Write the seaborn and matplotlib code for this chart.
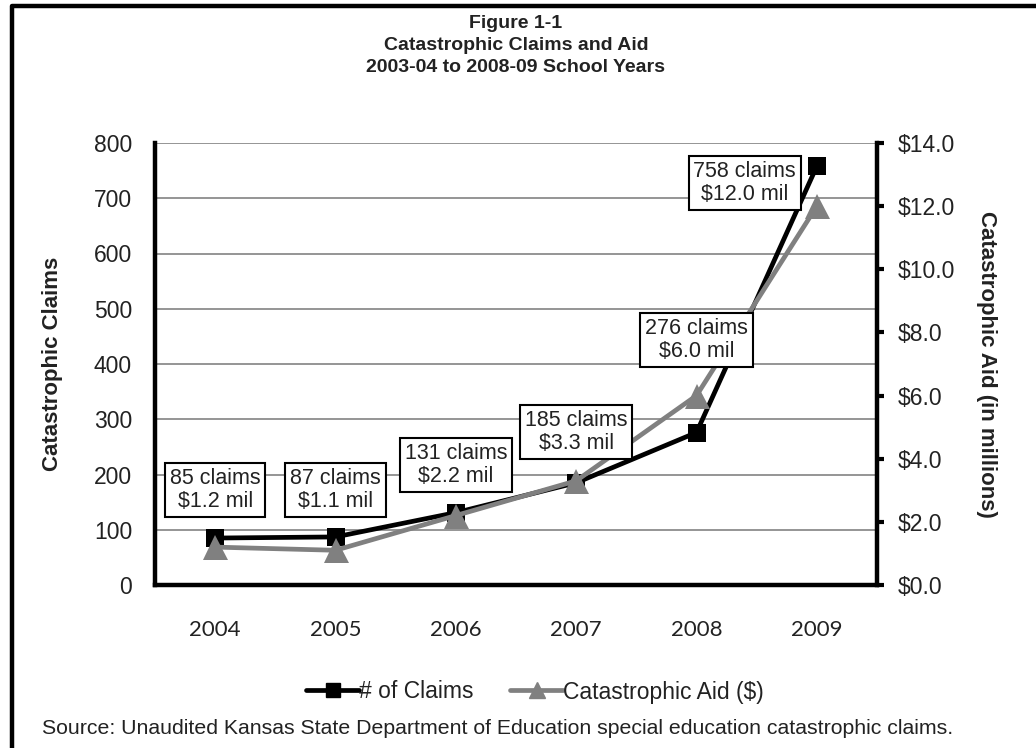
import matplotlib
matplotlib.use("Agg")
import matplotlib.pyplot as plt
import seaborn as sns
import pandas as pd
from matplotlib.lines import Line2D

years = ["2004", "2005", "2006", "2007", "2008", "2009"]
claims = [85, 87, 131, 185, 276, 758]
aid_millions = [1.2, 1.1, 2.2, 3.3, 6.0, 12.0]

title_lines = ["Figure 1-1", "Catastrophic Claims and Aid", "2003-04 to 2008-09 School Years"]
left_label = "Catastrophic Claims"
right_label = "Catastrophic Aid (in millions)"
series_names = ["# of Claims", "Catastrophic Aid ($)"]
source_note = "Source: Unaudited Kansas State Department of Education special education catastrophic claims."

# label box centres (layout only): x in category units, y in claims units
label_pos = [(0, 172), (1, 172), (2, 217), (3, 277), (4, 443), (4.4, 728)]

sns.set_theme(style="white")
plt.rcParams["font.family"] = ["Liberation Sans", "DejaVu Sans"]

df = pd.DataFrame({"idx": range(len(years)), "year": years,
                   "claims": claims, "aid": aid_millions})

fig = plt.figure(figsize=(10.36, 7.48), dpi=100)
ax = fig.add_axes([155/1036, 1-585/748, (877-155)/1036, (585-143)/748])
ax2 = ax.twinx()
ax.set_zorder(1)
ax2.set_zorder(2)
ax2.patch.set_visible(False)

GRAY = "#808080"
TXT = "#222222"
sns.lineplot(data=df, x="idx", y="claims", ax=ax, color="black", linewidth=3.4,
             marker="s", markersize=13, markeredgewidth=0, legend=False)
sns.lineplot(data=df, x="idx", y="aid", ax=ax2, color=GRAY, linewidth=3.4,
             marker="^", markersize=18, markeredgewidth=0, legend=False)

ax.set_xlim(-0.5, len(years) - 0.5)
ax.set_ylim(0, 800)
ax2.set_ylim(0, 14)
ax.set_yticks(range(0, 801, 100))
ax2.set_yticks(range(0, 15, 2))
ax2.set_yticklabels([f"${v:.1f}" for v in range(0, 15, 2)])
ax.set_xticks(range(len(years)))
ax.set_xticklabels(years, fontfamily=["Lato", "DejaVu Sans"])

ax.grid(axis="y", color="#8c8c8c", linewidth=1.3)
ax.set_axisbelow(True)
for a in (ax, ax2):
    for s in a.spines.values():
        s.set_visible(False)
ax.spines["left"].set_visible(True)
ax.spines["bottom"].set_visible(True)
ax2.spines["right"].set_visible(True)
for s in (ax.spines["left"], ax.spines["bottom"], ax2.spines["right"]):
    s.set_color("black")
    s.set_linewidth(3.2)

ax.tick_params(axis="y", length=0, labelsize=16.5, pad=16.5, colors=TXT)
ax.tick_params(axis="x", length=0, labelsize=16, pad=25, colors=TXT)
ax2.tick_params(axis="y", length=5, width=3, direction="out", labelsize=16.5, pad=10,
                colors=TXT, color="black")

ax.set_xlabel("")
ax2.set_ylabel("")
ax.set_ylabel(left_label, fontsize=16, fontweight="bold", labelpad=22, color=TXT)
ax2.set_ylabel(right_label, fontsize=16, fontweight="bold", rotation=-90,
               labelpad=30, color=TXT)

for (px, py), c, a in zip(label_pos, claims, aid_millions):
    ax2.text(px, py * 14 / 800, f"{c} claims\n${a:.1f} mil", ha="center", va="center",
             fontsize=15.5, color=TXT, linespacing=1.15, zorder=10,
             bbox=dict(boxstyle="square,pad=0.22", fc="white", ec="black", lw=1.5))

y0 = 1 - 23/748
for i, line in enumerate(title_lines):
    fig.text(516/1036, y0 - i * 22.5/748, line, ha="center", va="center",
             fontsize=14, fontweight="bold", color=TXT)

handles = [Line2D([], [], color="black", lw=3.4, marker="s", markersize=10),
           Line2D([], [], color=GRAY, lw=3.4, marker="^", markersize=11)]
fig.legend(handles, series_names, loc="center", bbox_to_anchor=(535/1036, 1-692/748),
           ncol=2, frameon=False, fontsize=16.5, handlelength=2.3, handletextpad=0.0,
           columnspacing=1.6, labelcolor=TXT)

fig.text(42/1036, 1-729/748, source_note, ha="left", va="center",
         fontsize=15.3, color=TXT)

fig.add_artist(Line2D([12/1036, 12/1036, 1.0], [0.0, 1-6/748, 1-6/748],
                      transform=fig.transFigure, color="black", lw=3.2))

fig.savefig("out.png", dpi=100, facecolor="white")
